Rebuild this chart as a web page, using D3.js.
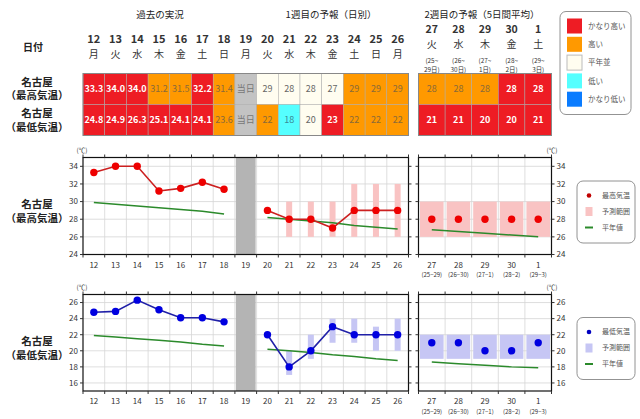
<!DOCTYPE html>
<html><head><meta charset="utf-8">
<script src="https://cdn.jsdelivr.net/npm/d3@7"></script>
<style>
body{margin:0;background:#fff}
svg{display:block;font-family:"Noto Sans CJK JP","Noto Sans",sans-serif}
</style>
</head><body><div id="chart"></div>
<script>
// days of week 1 (past + today + forecast)
const days = ["12","13","14","15","16","17","18","19","20","21","22","23","24","25","26"]
const weekdays = ["月","火","水","木","金","土","日","月","火","水","木","金","土","日","月"]
const pastDays = days.slice(0, 7)
const fcDays = days.slice(8)

// week 2 (5-day means)
const week2Days = ["27","28","29","30","1"]
const week2Weekdays = ["火","水","木","金","土"]
const week2SpanA = ["(25~","(26~","(27~","(28~","(29~"]
const week2SpanB = ["29日)","30日)","1日)","2日)","3日)"]
const week2AxisSpans = ["(25−29)","(26−30)","(27−1)","(28−2)","(29−3)"]

// table
const maxCells = ["33.3","34.0","34.0","31.2","31.5","32.2","31.4","当日","29","28","28","27","29","29","29"]
const maxLevels = ["vh","vh","vh","h","h","vh","h","today","n","n","n","n","h","h","h"]
const minCells = ["24.8","24.9","26.3","25.1","24.1","24.1","23.6","当日","22","18","20","23","22","22","22"]
const minLevels = ["vh","vh","vh","vh","vh","vh","h","today","h","l","n","vh","h","h","h"]
const week2MaxCells = ["28","28","28","28","28"]
const week2MaxLevels = ["h","h","h","vh","vh"]
const week2MinCells = ["21","21","20","20","21"]
const week2MinLevels = ["vh","vh","vh","vh","vh"]

const legendLabels = ["かなり高い","高い","平年並","低い","かなり低い"]
const legendLevels = ["vh","h","n","l","vl"]

// chart: max temperature
const pastMax = [33.3, 34.0, 34.0, 31.2, 31.5, 32.2, 31.4]
const fcMax = [29, 28, 28, 27, 29, 29, 29]
const fcMaxLo = [null, 26, 26, 26, 26, 26, 26]
const fcMaxHi = [null, 30, 30, 30, 32, 32, 32]
const normalMaxPast = [29.9, 29.7, 29.5, 29.3, 29.1, 28.9, 28.6]
const normalMaxFc = [28.2, 28.0, 27.8, 27.6, 27.3, 27.1, 26.9]
const week2Max = [28, 28, 28, 28, 28]
const week2MaxLo = [26, 26, 26, 26, 26]
const week2MaxHi = [30, 30, 30, 30, 30]
const normalMaxW2 = [26.8, 26.6, 26.4, 26.2, 26.0]

// chart: min temperature
const pastMin = [24.8, 24.9, 26.3, 25.1, 24.1, 24.1, 23.6]
const fcMin = [22, 18, 20, 23, 22, 22, 22]
const fcMinLo = [null, 17, 19, 21, 21, 20, 20]
const fcMinHi = [null, 20, 22, 24, 24, 23, 24]
const normalMinPast = [21.9, 21.7, 21.5, 21.3, 21.1, 20.8, 20.6]
const normalMinFc = [20.2, 20.0, 19.8, 19.5, 19.3, 19.0, 18.8]
const week2Min = [21, 21, 20, 20, 21]
const week2MinLo = [19, 19, 19, 19, 19]
const week2MinHi = [22, 22, 22, 22, 22]
const normalMinW2 = [18.6, 18.4, 18.2, 18.0, 17.9]

const yTicksMax = [24, 26, 28, 30, 32, 34]
const yTicksMin = [16, 18, 20, 22, 24, 26]

const levelFill = {vh: "#ee1c24", h: "#ff9900", n: "#fffdf0", l: "#55ffff", vl: "#0a7cff", today: "#c3c3c3"}
const levelText = {vh: "#fff", h: "#8a6a3a", n: "#666", l: "#3a8a96", vl: "#fff", today: "#777"}

const svg = d3.select("#chart").append("svg").attr("width", 640).attr("height", 419)

const x1 = d3.scaleBand().domain(days).range([83, 408.5])
const x2 = d3.scaleBand().domain(week2Days).range([418.5, 551.5])
const c1 = d => x1(d) + x1.bandwidth() / 2
const c2 = d => x2(d) + x2.bandwidth() / 2

// ---------- header ----------
const head = svg.append("g").attr("fill", "#222").attr("text-anchor", "middle")
head.append("text").attr("x", 160).attr("y", 17.5).attr("font-size", 9.5).text("過去の実況")
head.append("text").attr("x", 331).attr("y", 17.5).attr("font-size", 9.5).text("1週目の予報（日別）")
head.append("text").attr("x", 482).attr("y", 17.5).attr("font-size", 9.5).text("2週目の予報（5日間平均）")
head.append("text").attr("x", 33).attr("y", 51).attr("font-size", 10).attr("font-weight", "bold").text("日付")

head.selectAll(".d").data(days).join("text")
    .attr("x", c1).attr("y", 43).attr("font-size", 11).attr("font-weight", "bold").attr("fill", "#333")
    .text(d => d)
head.selectAll(".w").data(weekdays).join("text")
    .attr("x", (d, i) => c1(days[i])).attr("y", 58).attr("font-size", 10).attr("fill", "#333")
    .text(d => d)

head.selectAll(".d2").data(week2Days).join("text")
    .attr("x", c2).attr("y", 33).attr("font-size", 10.5).attr("font-weight", "bold").attr("fill", "#333")
    .text(d => d)
head.selectAll(".w2").data(week2Weekdays).join("text")
    .attr("x", (d, i) => c2(week2Days[i])).attr("y", 48).attr("font-size", 10).attr("fill", "#333")
    .text(d => d)
head.selectAll(".sa").data(week2SpanA).join("text")
    .attr("x", (d, i) => c2(week2Days[i])).attr("y", 62.5).attr("font-size", 6.4).attr("fill", "#333")
    .text(d => d)
head.selectAll(".sb").data(week2SpanB).join("text")
    .attr("x", (d, i) => c2(week2Days[i])).attr("y", 72).attr("font-size", 6.4).attr("fill", "#333")
    .text(d => d)

// ---------- table ----------
const rowTop = 73.5, rowH = 31

function tableRow(g, x, keys, cells, levels, y) {
    const cell = g.selectAll(null).data(cells).join("g")
        .attr("transform", (d, i) => `translate(${x(keys[i])},${y})`)
    cell.append("rect")
        .attr("width", x.bandwidth()).attr("height", rowH)
        .attr("fill", (d, i) => levelFill[levels[i]])
        .attr("stroke", "#aaa").attr("stroke-width", 0.5)
    cell.append("text")
        .attr("x", x.bandwidth() / 2).attr("y", rowH / 2).attr("dy", "0.35em")
        .attr("text-anchor", "middle").attr("font-size", 9)
        .attr("font-weight", (d, i) => levels[i] == "vh" ? "bold" : "normal")
        .attr("fill", (d, i) => levelText[levels[i]])
        .text(d => d)
}

const table = svg.append("g")
tableRow(table, x1, days, maxCells, maxLevels, rowTop)
tableRow(table, x1, days, minCells, minLevels, rowTop + rowH)
tableRow(table, x2, week2Days, week2MaxCells, week2MaxLevels, rowTop)
tableRow(table, x2, week2Days, week2MinCells, week2MinLevels, rowTop + rowH)
table.append("rect").attr("x", x1.range()[0]).attr("y", rowTop)
    .attr("width", x1.range()[1] - x1.range()[0]).attr("height", rowH * 2)
    .attr("fill", "none").attr("stroke", "#888").attr("stroke-width", 1)
table.append("rect").attr("x", x2.range()[0]).attr("y", rowTop)
    .attr("width", x2.range()[1] - x2.range()[0]).attr("height", rowH * 2)
    .attr("fill", "none").attr("stroke", "#888").attr("stroke-width", 1)

const rowLab = svg.append("g").attr("text-anchor", "middle").attr("font-size", 10.5)
    .attr("font-weight", "bold").attr("fill", "#222")
rowLab.append("text").attr("x", 37).attr("y", 85.5).text("名古屋")
rowLab.append("text").attr("x", 37).attr("y", 99).text("（最高気温）")
rowLab.append("text").attr("x", 37).attr("y", 117).text("名古屋")
rowLab.append("text").attr("x", 37).attr("y", 130.5).text("（最低気温）")

// ---------- colour legend ----------
const lg = svg.append("g")
lg.append("rect").attr("x", 560).attr("y", 11.5).attr("width", 71).attr("height", 103)
    .attr("rx", 6).attr("fill", "#fff").attr("stroke", "#777").attr("stroke-width", 0.8)
const lgItem = lg.selectAll(".li").data(legendLabels).join("g")
    .attr("transform", (d, i) => `translate(567,${18.5 + i * 18.3})`)
lgItem.append("rect").attr("width", 15).attr("height", 15)
    .attr("fill", (d, i) => levelFill[legendLevels[i]])
    .attr("stroke", (d, i) => legendLevels[i] == "n" ? "#bbb" : "none")
lgItem.append("text").attr("x", 21).attr("y", 7.5).attr("dy", "0.35em")
    .attr("font-size", 7.5).attr("fill", "#555").text(d => d)

// ---------- charts ----------
function drawChart(cfg) {
    const y = d3.scaleLinear().domain(cfg.domain).range([cfg.bottom, cfg.top])
    const g = svg.append("g")
    const panels = [x1, x2]

    // grids
    panels.forEach(x => {
        const [a, b] = x.range()
        g.append("g").selectAll("line").data(cfg.ticks).join("line")
            .attr("x1", a).attr("x2", b).attr("y1", y).attr("y2", y)
            .attr("stroke", "#d6d6d6").attr("stroke-width", 0.8)
        g.append("g").selectAll("line").data(x.domain().slice(1)).join("line")
            .attr("x1", x).attr("x2", x).attr("y1", cfg.top).attr("y2", cfg.bottom)
            .attr("stroke", "#d6d6d6").attr("stroke-width", 0.8)
    })

    // today band
    g.append("rect").attr("x", x1("19") + 1).attr("y", cfg.top)
        .attr("width", x1.bandwidth() - 2).attr("height", cfg.bottom - cfg.top)
        .attr("fill", "#b4b4b4")

    // forecast ranges
    g.append("g").selectAll("rect").data(fcDays.filter((d, i) => cfg.fcLo[i] != null)).join("rect")
        .attr("x", d => c1(d) - 3).attr("width", 6)
        .attr("y", d => y(cfg.fcHi[fcDays.indexOf(d)]))
        .attr("height", d => y(cfg.fcLo[fcDays.indexOf(d)]) - y(cfg.fcHi[fcDays.indexOf(d)]))
        .attr("fill", cfg.rangeColor)
    g.append("g").selectAll("rect").data(week2Days).join("rect")
        .attr("x", d => x2(d) + 1.5).attr("width", x2.bandwidth() - 3)
        .attr("y", (d, i) => y(cfg.w2Hi[i]))
        .attr("height", (d, i) => y(cfg.w2Lo[i]) - y(cfg.w2Hi[i]))
        .attr("fill", cfg.rangeColor)

    // normals
    const normal = (x, keys) => d3.line().x((d, i) => x(keys[i]) + x.bandwidth() / 2).y(d => y(d))
    g.append("path").attr("d", normal(x1, pastDays)(cfg.normalPast))
        .attr("fill", "none").attr("stroke", "#2b8a2b").attr("stroke-width", 1.5)
    g.append("path").attr("d", normal(x1, fcDays)(cfg.normalFc))
        .attr("fill", "none").attr("stroke", "#2b8a2b").attr("stroke-width", 1.5)
    g.append("path").attr("d", normal(x2, week2Days)(cfg.normalW2))
        .attr("fill", "none").attr("stroke", "#2b8a2b").attr("stroke-width", 1.5)

    // observed / forecast lines
    g.append("path").attr("d", normal(x1, pastDays)(cfg.past))
        .attr("fill", "none").attr("stroke", cfg.lineColor).attr("stroke-width", 1.6)
    g.append("path").attr("d", normal(x1, fcDays)(cfg.fc))
        .attr("fill", "none").attr("stroke", cfg.lineColor).attr("stroke-width", 1.6)

    const dots = g.append("g").attr("fill", cfg.dotColor)
    dots.selectAll(".p").data(cfg.past).join("circle")
        .attr("cx", (d, i) => c1(pastDays[i])).attr("cy", y).attr("r", 3.7)
    dots.selectAll(".f").data(cfg.fc).join("circle")
        .attr("cx", (d, i) => c1(fcDays[i])).attr("cy", y).attr("r", 3.7)
    dots.selectAll(".w").data(cfg.w2).join("circle")
        .attr("cx", (d, i) => c2(week2Days[i])).attr("cy", y).attr("r", 3.7)

    // frames + ticks
    panels.forEach(x => {
        const [a, b] = x.range()
        g.append("rect").attr("x", a).attr("y", cfg.top).attr("width", b - a)
            .attr("height", cfg.bottom - cfg.top)
            .attr("fill", "none").attr("stroke", "#111").attr("stroke-width", 1.2)
        const bounds = x.domain().map(x).concat([b])
        g.append("g").selectAll("line").data(bounds).join("line")
            .attr("x1", d => d).attr("x2", d => d).attr("y1", cfg.top - 3).attr("y2", cfg.top)
            .attr("stroke", "#333")
        g.append("g").selectAll("line").data(bounds).join("line")
            .attr("x1", d => d).attr("x2", d => d).attr("y1", cfg.bottom).attr("y2", cfg.bottom + 3)
            .attr("stroke", "#333")
        g.append("g").selectAll("line").data(cfg.ticks).join("line")
            .attr("x1", a - 3).attr("x2", a).attr("y1", y).attr("y2", y).attr("stroke", "#333")
        g.append("g").selectAll("line").data(cfg.ticks).join("line")
            .attr("x1", b).attr("x2", b + 3).attr("y1", y).attr("y2", y).attr("stroke", "#333")
    })

    // axis labels
    const lab = g.append("g").attr("font-size", 8).attr("fill", "#333")
    lab.selectAll(".yl").data(cfg.ticks).join("text")
        .attr("x", x1.range()[0] - 5).attr("y", y).attr("dy", "0.35em")
        .attr("text-anchor", "end").text(d => d)
    lab.selectAll(".yr").data(cfg.ticks).join("text")
        .attr("x", x2.range()[1] + 5).attr("y", y).attr("dy", "0.35em")
        .text(d => d)
    lab.selectAll(".x1").data(days).join("text")
        .attr("x", c1).attr("y", cfg.bottom + 13).attr("text-anchor", "middle").text(d => d)
    lab.selectAll(".x2").data(week2Days).join("text")
        .attr("x", c2).attr("y", cfg.bottom + 13).attr("text-anchor", "middle").text(d => d)
    lab.selectAll(".x3").data(week2AxisSpans).join("text")
        .attr("x", (d, i) => c2(week2Days[i])).attr("y", cfg.bottom + 22.5)
        .attr("text-anchor", "middle").attr("font-size", 6).text(d => d)
    lab.append("text").attr("x", 82).attr("y", cfg.top - 5).attr("text-anchor", "middle")
        .attr("font-size", 6.5).text("(℃)")
    lab.append("text").attr("x", 552).attr("y", cfg.top - 5).attr("text-anchor", "middle")
        .attr("font-size", 6.5).text("(℃)")

    const side = g.append("g").attr("text-anchor", "middle").attr("font-size", 10.5)
        .attr("font-weight", "bold").attr("fill", "#222")
    side.append("text").attr("x", 37).attr("y", cfg.labelY).text("名古屋")
    side.append("text").attr("x", 37).attr("y", cfg.labelY + 14).text(cfg.label)

    // legend
    const lgc = g.append("g").attr("transform", `translate(577,${cfg.legendY})`)
    lgc.append("rect").attr("width", 58).attr("height", 62).attr("rx", 6)
        .attr("fill", "#fff").attr("stroke", "#777").attr("stroke-width", 0.8)
    lgc.append("circle").attr("cx", 12).attr("cy", 14.5).attr("r", 2.3).attr("fill", cfg.legendDot)
    lgc.append("rect").attr("x", 8.5).attr("y", 26).attr("width", 7).attr("height", 9).attr("fill", cfg.rangeColor)
    lgc.append("line").attr("x1", 8).attr("x2", 16).attr("y1", 46.5).attr("y2", 46.5)
        .attr("stroke", "#2b8a2b").attr("stroke-width", 2)
    lgc.selectAll("text").data([cfg.legendName, "予測範囲", "平年値"]).join("text")
        .attr("x", 25).attr("y", (d, i) => 14.5 + i * 16).attr("dy", "0.35em")
        .attr("font-size", 7).attr("fill", "#555").text(d => d)
}

drawChart({
    domain: [24, 35], top: 157.5, bottom: 254.5, ticks: yTicksMax,
    past: pastMax, fc: fcMax, fcLo: fcMaxLo, fcHi: fcMaxHi, w2: week2Max, w2Lo: week2MaxLo, w2Hi: week2MaxHi,
    normalPast: normalMaxPast, normalFc: normalMaxFc, normalW2: normalMaxW2,
    lineColor: "#cc2020", dotColor: "#ee0000", rangeColor: "#f9c3c3", legendDot: "#c00000",
    label: "（最高気温）", labelY: 208, legendY: 181, legendName: "最高気温"
})
drawChart({
    domain: [15, 27], top: 294.5, bottom: 391, ticks: yTicksMin,
    past: pastMin, fc: fcMin, fcLo: fcMinLo, fcHi: fcMinHi, w2: week2Min, w2Lo: week2MinLo, w2Hi: week2MinHi,
    normalPast: normalMinPast, normalFc: normalMinFc, normalW2: normalMinW2,
    lineColor: "#2020a8", dotColor: "#0000e0", rangeColor: "#c6c6f4", legendDot: "#0000c0",
    label: "（最低気温）", labelY: 345, legendY: 317.5, legendName: "最低気温"
})
</script>
</body></html>
